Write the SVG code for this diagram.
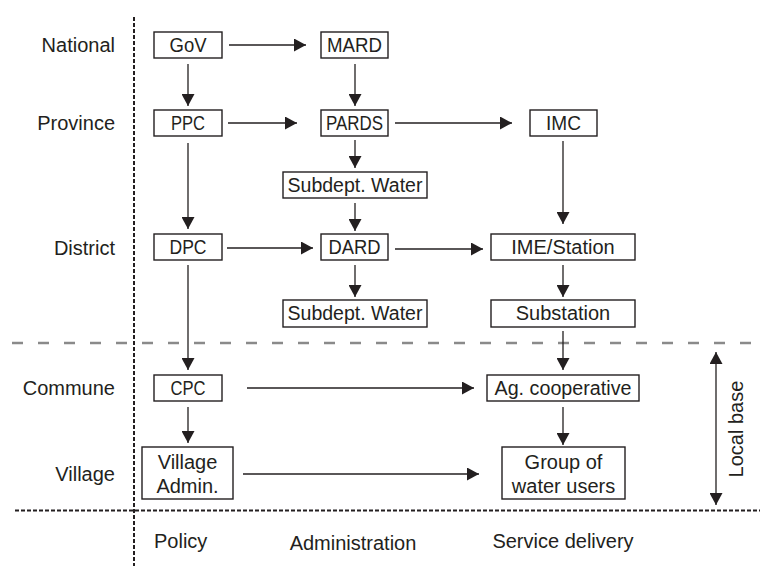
<svg xmlns="http://www.w3.org/2000/svg" width="760" height="568" viewBox="0 0 760 568">
<style>
text{font-family:"Liberation Sans",Arial,sans-serif;font-size:20px;fill:#231f20}
.c{text-anchor:middle}
.r{text-anchor:end}
.box{fill:#fff;stroke:#231f20;stroke-width:1.4}
.ln{stroke:#231f20;stroke-width:1.3;fill:none}
.dot{stroke:#231f20;stroke-width:2;stroke-dasharray:4 2;fill:none}
.gd{stroke:#8a8a8a;stroke-width:2.5;stroke-dasharray:11 15;fill:none}
</style>
<defs>
<marker id="ah" markerUnits="userSpaceOnUse" markerWidth="12" markerHeight="13" refX="12" refY="6.5" orient="auto">
<path d="M0,0 L12,6.5 L0,13 z" fill="#231f20"/>
</marker>
<marker id="as" markerUnits="userSpaceOnUse" markerWidth="12" markerHeight="13" refX="0" refY="6.5" orient="auto">
<path d="M12,0 L0,6.5 L12,13 z" fill="#231f20"/>
</marker>
</defs>
<rect width="760" height="568" fill="#fff"/>
<g id="dividers">
<line class="dot" x1="134" y1="17" x2="134" y2="566"/>
<line class="dot" x1="15" y1="510.5" x2="760" y2="510.5"/>
<line class="gd" x1="12" y1="343" x2="760" y2="343"/>
</g>
<g id="level-labels">
<text class="r" x="115" y="52">National</text>
<text class="r" x="115" y="130">Province</text>
<text class="r" x="115" y="255">District</text>
<text class="r" x="115" y="395">Commune</text>
<text class="r" x="115" y="481">Village</text>
</g>
<g id="column-labels">
<text x="154" y="548">Policy</text>
<text class="c" x="353" y="550">Administration</text>
<text class="c" x="563" y="548">Service delivery</text>
</g>
<g id="connectors">
<line class="ln" marker-end="url(#ah)" x1="229" y1="45" x2="306" y2="45"/>
<line class="ln" marker-end="url(#ah)" x1="188" y1="64" x2="188" y2="106"/>
<line class="ln" marker-end="url(#ah)" x1="355" y1="64" x2="355" y2="106"/>
<line class="ln" marker-end="url(#ah)" x1="228" y1="123" x2="297" y2="123"/>
<line class="ln" marker-end="url(#ah)" x1="395" y1="123" x2="512" y2="123"/>
<line class="ln" marker-end="url(#ah)" x1="355" y1="140" x2="355" y2="168"/>
<line class="ln" marker-end="url(#ah)" x1="355" y1="203" x2="355" y2="231"/>
<line class="ln" marker-end="url(#ah)" x1="188" y1="143" x2="188" y2="229"/>
<line class="ln" marker-end="url(#ah)" x1="563" y1="141" x2="563" y2="224"/>
<line class="ln" marker-end="url(#ah)" x1="227" y1="248" x2="313" y2="248"/>
<line class="ln" marker-end="url(#ah)" x1="395" y1="249" x2="483" y2="249"/>
<line class="ln" marker-end="url(#ah)" x1="355" y1="265" x2="355" y2="297"/>
<line class="ln" marker-end="url(#ah)" x1="563" y1="265" x2="563" y2="297"/>
<line class="ln" marker-end="url(#ah)" x1="188" y1="265" x2="188" y2="370"/>
<line class="ln" marker-end="url(#ah)" x1="563" y1="331" x2="563" y2="370"/>
<line class="ln" marker-end="url(#ah)" x1="247" y1="388" x2="474" y2="388"/>
<line class="ln" marker-end="url(#ah)" x1="188" y1="407" x2="188" y2="443"/>
<line class="ln" marker-end="url(#ah)" x1="563" y1="407" x2="563" y2="445"/>
<line class="ln" marker-end="url(#ah)" x1="243" y1="474" x2="479" y2="474"/>
<line class="ln" marker-start="url(#as)" marker-end="url(#ah)" x1="716" y1="352" x2="716" y2="505"/>
</g>
<g id="local-base">
<text class="c" transform="translate(743,429) rotate(-90)">Local base</text>
</g>
<g id="gov"><rect class="box" x="154" y="32" width="68" height="26"/><text class="c" x="188" y="52" textLength="37" lengthAdjust="spacingAndGlyphs">GoV</text></g>
<g id="mard"><rect class="box" x="321" y="32" width="67" height="26"/><text class="c" x="354.5" y="52" textLength="55" lengthAdjust="spacingAndGlyphs">MARD</text></g>
<g id="ppc"><rect class="box" x="154" y="110" width="68" height="26"/><text class="c" x="188" y="130" textLength="34" lengthAdjust="spacingAndGlyphs">PPC</text></g>
<g id="pards"><rect class="box" x="321" y="110" width="67" height="26"/><text class="c" x="354.5" y="130" textLength="57" lengthAdjust="spacingAndGlyphs">PARDS</text></g>
<g id="imc"><rect class="box" x="530" y="110" width="67" height="26"/><text class="c" x="563.5" y="130" textLength="35" lengthAdjust="spacingAndGlyphs">IMC</text></g>
<g id="subdept-water-province"><rect class="box" x="283" y="172" width="144" height="26"/><text class="c" x="355" y="192" textLength="135" lengthAdjust="spacingAndGlyphs">Subdept. Water</text></g>
<g id="dpc"><rect class="box" x="154" y="234" width="68" height="26"/><text class="c" x="188" y="254" textLength="37" lengthAdjust="spacingAndGlyphs">DPC</text></g>
<g id="dard"><rect class="box" x="321" y="234" width="67" height="26"/><text class="c" x="354.5" y="254" textLength="52" lengthAdjust="spacingAndGlyphs">DARD</text></g>
<g id="ime-station"><rect class="box" x="491" y="234" width="144" height="26"/><text class="c" x="563" y="254">IME/Station</text></g>
<g id="subdept-water-district"><rect class="box" x="283" y="300" width="144" height="27"/><text class="c" x="355" y="320" textLength="135" lengthAdjust="spacingAndGlyphs">Subdept. Water</text></g>
<g id="substation"><rect class="box" x="491" y="300" width="144" height="27"/><text class="c" x="563" y="320">Substation</text></g>
<g id="cpc"><rect class="box" x="154" y="375" width="68" height="26"/><text class="c" x="188" y="395" textLength="35" lengthAdjust="spacingAndGlyphs">CPC</text></g>
<g id="ag-cooperative"><rect class="box" x="487" y="375" width="152" height="26"/><text class="c" x="563" y="395" textLength="137" lengthAdjust="spacingAndGlyphs">Ag. cooperative</text></g>
<g id="village-admin"><rect class="box" x="142" y="447" width="91" height="52"/><text class="c" x="187.5" y="469">Village</text><text class="c" x="187.5" y="493">Admin.</text></g>
<g id="group-water-users"><rect class="box" x="502" y="447" width="123" height="52"/><text class="c" x="563.5" y="469">Group of</text><text class="c" x="563.5" y="493">water users</text></g>
</svg>
